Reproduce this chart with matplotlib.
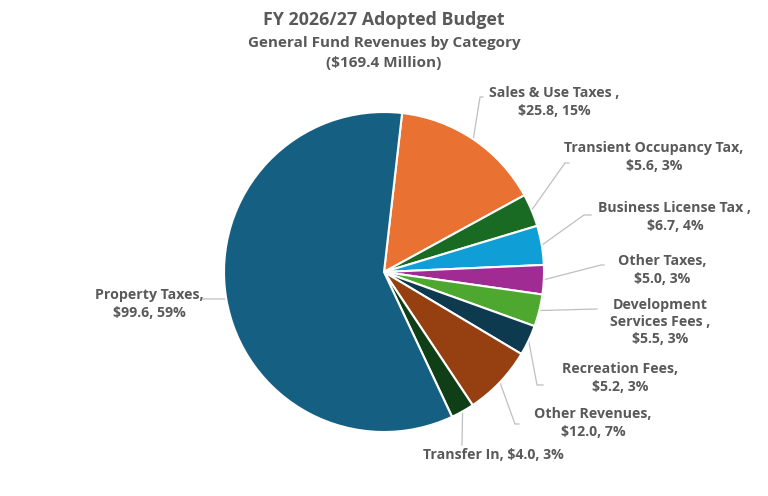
import numpy as np
import matplotlib.pyplot as plt

# values in $ million, clockwise from Sales & Use Taxes
categories = ["Sales & Use Taxes ,", "Transient Occupancy Tax,", "Business License Tax ,",
              "Other Taxes,", "Development\nServices Fees ,", "Recreation Fees,",
              "Other Revenues,", "Transfer In,", "Property Taxes,"]
values = [25.8, 5.6, 6.7, 5.0, 5.5, 5.2, 12.0, 4.0, 99.6]
pct_labels = ["15%", "3%", "4%", "3%", "3%", "3%", "7%", "3%", "59%"]  # as printed on the chart
colors = ["#e97132", "#196b24", "#0f9ed5", "#a02b93", "#4ea72e", "#0d3a4f",
          "#963f10", "#103f17", "#156082"]

W, H = 768, 496
CX, CY, R = 384, 272, 160
START = 83.5

# layout (pixel coords, y downwards): text centre, elbow, end of leader
text_pos = [(554, 102), (654, 157), (675, 217), (662, 270), (660, 322),
            (620, 378), (593, 423), (493, 455), (149, 304)]
elbows = [(480, 97), (565, 163), (584, 215), (601, 265), (597, 309),
          (537, 385), (515, 424), (462, 445), (225, 299)]
ends = [(483, 97), (569, 163), (591, 215), (604, 265), (597, 309),
        (543, 385), (519, 424), (462, 445), (202, 299)]

GREY = "#595959"
FONT = "Open Sans"


def py(y):
    return H - y


def main():
    fig = plt.figure(figsize=(W / 100, H / 100), dpi=100)
    ax = fig.add_axes([0, 0, 1, 1])

    wedges, _ = ax.pie(values, colors=colors, startangle=START, counterclock=False,
                       center=(CX, py(CY)), radius=R,
                       wedgeprops=dict(edgecolor="white", linewidth=1.5))
    ax.set_xlim(0, W)
    ax.set_ylim(0, H)
    ax.axis("off")

    for i, (name, v) in enumerate(zip(categories, values)):
        w = wedges[i]
        mid = np.deg2rad((w.theta1 + w.theta2) / 2)
        ax0 = CX + R * np.cos(mid)
        ay0 = CY - R * np.sin(mid)
        xs = [ax0, elbows[i][0], ends[i][0]]
        ys = [py(ay0), py(elbows[i][1]), py(ends[i][1])]
        ax.plot(xs, ys, color="#bfbfbf", linewidth=0.9, zorder=0)
        if name.startswith("Transfer"):
            label = f"{name} ${v:.1f}, {pct_labels[i]}"
        else:
            label = f"{name}\n${v:.1f}, {pct_labels[i]}"
        ax.text(text_pos[i][0], py(text_pos[i][1]), label, ha="center", va="center",
                fontsize=10.2, fontweight="bold", color=GREY, family=FONT, linespacing=1.3)

    ax.text(W / 2, py(20), "FY 2026/27 Adopted Budget", ha="center", va="center",
            fontsize=12.8, fontweight="bold", color=GREY, family=FONT)
    ax.text(W / 2, py(43), "General Fund Revenues by Category", ha="center", va="center",
            fontsize=11, fontweight="bold", color=GREY, family=FONT)
    ax.text(W / 2, py(63), "($169.4 Million)", ha="center", va="center",
            fontsize=11, fontweight="bold", color=GREY, family=FONT)

    fig.savefig("out.png", dpi=100)


if __name__ == '__main__':
    main()
